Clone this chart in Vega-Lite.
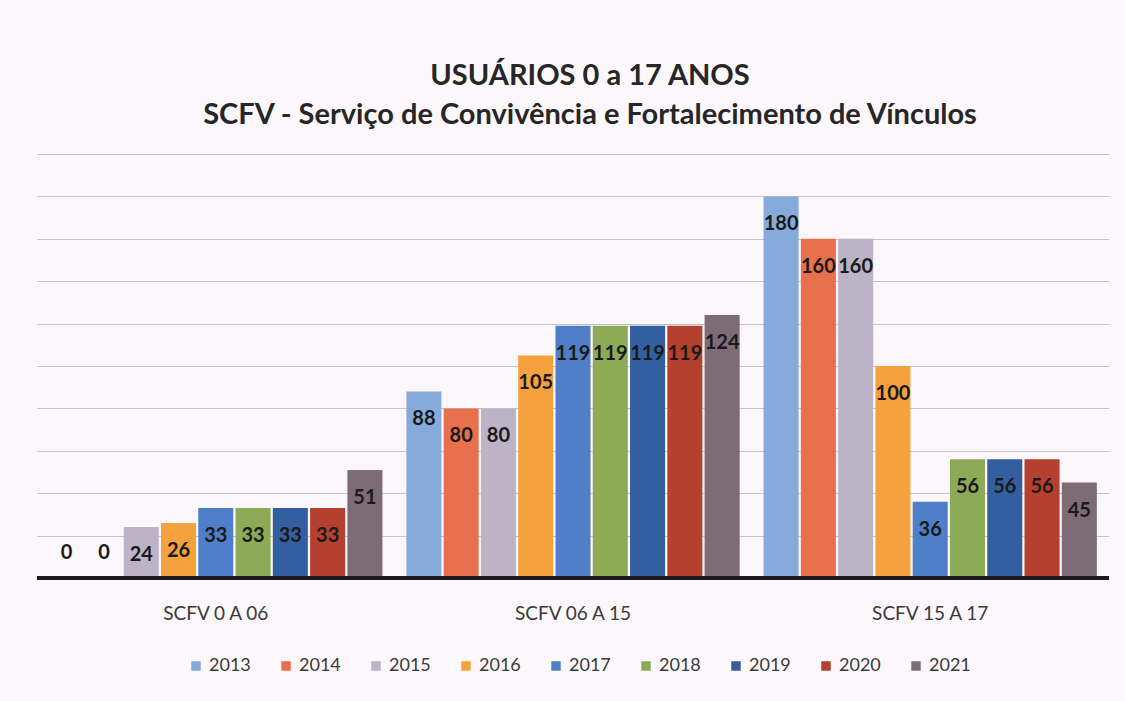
{
  "$schema": "https://vega.github.io/schema/vega-lite/v6.json",
  "width": 1072,
  "height": 424,
  "autosize": {"type": "none"},
  "padding": {"left": 37, "top": 154, "right": 16, "bottom": 123},
  "background": "#fbf7fa",
  "title": {
    "text": ["USUÁRIOS 0 a 17 ANOS", "SCFV - Serviço de Convivência e Fortalecimento de Vínculos"],
    "font": "Lato",
    "fontSize": 29,
    "fontWeight": "bold",
    "color": "#262626",
    "lineHeight": 39,
    "offset": 24,
    "anchor": "middle",
    "dx": 17
  },
  "data": {
    "values": [
      {"grupo": "SCFV 0 A 06", "ano": "2013", "valor": 0},
      {"grupo": "SCFV 0 A 06", "ano": "2014", "valor": 0},
      {"grupo": "SCFV 0 A 06", "ano": "2015", "valor": 24},
      {"grupo": "SCFV 0 A 06", "ano": "2016", "valor": 26},
      {"grupo": "SCFV 0 A 06", "ano": "2017", "valor": 33},
      {"grupo": "SCFV 0 A 06", "ano": "2018", "valor": 33},
      {"grupo": "SCFV 0 A 06", "ano": "2019", "valor": 33},
      {"grupo": "SCFV 0 A 06", "ano": "2020", "valor": 33},
      {"grupo": "SCFV 0 A 06", "ano": "2021", "valor": 51},
      {"grupo": "SCFV 06 A 15", "ano": "2013", "valor": 88},
      {"grupo": "SCFV 06 A 15", "ano": "2014", "valor": 80},
      {"grupo": "SCFV 06 A 15", "ano": "2015", "valor": 80},
      {"grupo": "SCFV 06 A 15", "ano": "2016", "valor": 105},
      {"grupo": "SCFV 06 A 15", "ano": "2017", "valor": 119},
      {"grupo": "SCFV 06 A 15", "ano": "2018", "valor": 119},
      {"grupo": "SCFV 06 A 15", "ano": "2019", "valor": 119},
      {"grupo": "SCFV 06 A 15", "ano": "2020", "valor": 119},
      {"grupo": "SCFV 06 A 15", "ano": "2021", "valor": 124},
      {"grupo": "SCFV 15 A 17", "ano": "2013", "valor": 180},
      {"grupo": "SCFV 15 A 17", "ano": "2014", "valor": 160},
      {"grupo": "SCFV 15 A 17", "ano": "2015", "valor": 160},
      {"grupo": "SCFV 15 A 17", "ano": "2016", "valor": 100},
      {"grupo": "SCFV 15 A 17", "ano": "2017", "valor": 36},
      {"grupo": "SCFV 15 A 17", "ano": "2018", "valor": 56},
      {"grupo": "SCFV 15 A 17", "ano": "2019", "valor": 56},
      {"grupo": "SCFV 15 A 17", "ano": "2020", "valor": 56},
      {"grupo": "SCFV 15 A 17", "ano": "2021", "valor": 45}
    ]
  },
  "encoding": {
    "x": {
      "field": "grupo",
      "type": "nominal",
      "sort": null,
      "title": null,
      "scale": {"paddingInner": 0.067, "paddingOuter": 0.034},
      "axis": {
        "labelAngle": 0,
        "labelFont": "Lato",
        "labelFontSize": 19,
        "labelColor": "#3a3a3a",
        "labelPadding": 26,
        "ticks": false,
        "domain": false
      }
    },
    "xOffset": {"field": "ano", "type": "nominal", "sort": null, "scale": {"paddingInner": 0.06}},
    "y": {
      "field": "valor",
      "type": "quantitative",
      "title": null,
      "scale": {"domain": [0, 200], "nice": false},
      "axis": {
        "labels": false,
        "ticks": false,
        "domain": false,
        "grid": true,
        "values": [20, 40, 60, 80, 100, 120, 140, 160, 180, 200],
        "gridColor": "#c4c4c4",
        "gridWidth": 1.2
      }
    }
  },
  "layer": [
    {
      "mark": {"type": "bar"},
      "encoding": {
        "color": {
          "field": "ano",
          "type": "nominal",
          "title": null,
          "scale": {
            "domain": ["2013", "2014", "2015", "2016", "2017", "2018", "2019", "2020", "2021"],
            "range": ["#86aadb", "#e8704c", "#bdb3c6", "#f5a23e", "#4f7fc9", "#8dab57", "#335fa0", "#b5402f", "#7d6b76"]
          },
          "legend": {
            "orient": "none",
            "legendX": 150,
            "legendY": 503,
            "direction": "horizontal",
            "columns": 9,
            "symbolType": "square",
            "symbolSize": 90,
            "symbolStrokeWidth": 0,
            "labelFont": "Lato",
            "labelFontSize": 18,
            "labelColor": "#3a3a3a",
            "columnPadding": 26
          }
        }
      }
    },
    {
      "transform": [{"filter": "datum.valor > 0"}],
      "mark": {"type": "text", "dy": 28, "font": "Lato", "fontWeight": "bold", "fontSize": 20, "color": "#1a1a1a"},
      "encoding": {"text": {"field": "valor", "type": "quantitative"}}
    },
    {
      "transform": [{"filter": "datum.valor == 0"}],
      "mark": {"type": "text", "dy": -25, "font": "Lato", "fontWeight": "bold", "fontSize": 20, "color": "#1a1a1a"},
      "encoding": {"text": {"field": "valor", "type": "quantitative"}}
    },
    {
      "mark": {"type": "rule", "color": "#1a1a1a", "strokeWidth": 4},
      "encoding": {"y": {"datum": 0}, "x": null, "xOffset": null}
    }
  ],
  "config": {"view": {"stroke": null}}
}
